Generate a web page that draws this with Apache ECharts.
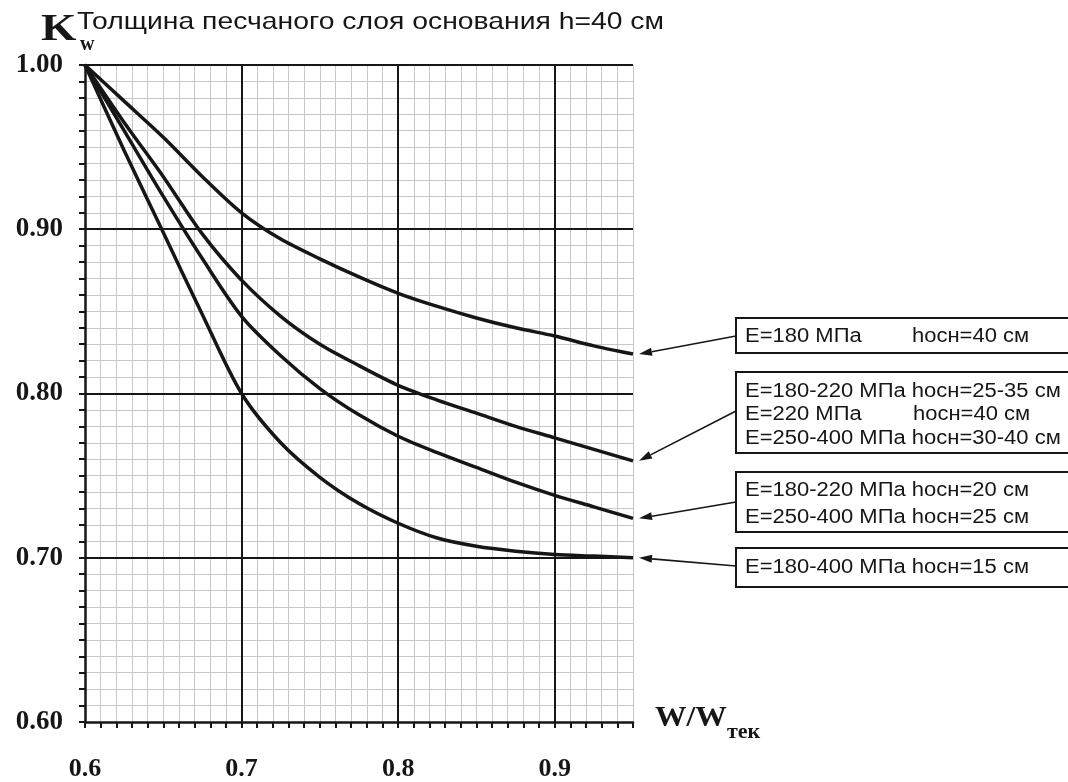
<!DOCTYPE html>
<html>
<head>
<meta charset="utf-8">
<script src="https://cdn.jsdelivr.net/npm/echarts@6/dist/echarts.min.js"></script>
<style>
  html, body { margin: 0; padding: 0; background: #fff; }
  #chart { width: 1068px; height: 782px; }
</style>
</head>
<body>
<div id="chart"></div>
<script>
// W/Wтек по оси X
var xs = [0.6, 0.625, 0.65, 0.675, 0.7, 0.725, 0.75, 0.775, 0.8, 0.825, 0.85, 0.875, 0.9, 0.925, 0.95];
// Kw для четырёх кривых (сверху вниз)
var kw180 = [1.0, 0.978, 0.956, 0.932, 0.910, 0.894, 0.882, 0.871, 0.861, 0.853, 0.846, 0.840, 0.835, 0.829, 0.824];
var kw220 = [1.0, 0.965, 0.932, 0.897, 0.869, 0.847, 0.830, 0.817, 0.805, 0.796, 0.788, 0.780, 0.773, 0.766, 0.759];
var kw20 = [1.0, 0.960, 0.920, 0.882, 0.847, 0.823, 0.803, 0.787, 0.774, 0.764, 0.755, 0.746, 0.738, 0.731, 0.724];
var kw15 = [1.0, 0.948, 0.898, 0.848, 0.800, 0.770, 0.749, 0.733, 0.721, 0.712, 0.707, 0.704, 0.702, 0.701, 0.700];
var majorX = [0.7, 0.8, 0.9];
var majorY = [0.7, 0.8, 0.9, 1.0];

var serif = '"Liberation Serif", "DejaVu Serif", serif';
var sans = '"Liberation Sans", Arial, sans-serif';
var ink = '#161616';

var myChart = echarts.init(document.getElementById('chart'));

function pairs(ys) {
    return xs.map(function (x, i) { return [x, ys[i]]; });
}

var majorLines = [];
majorX.forEach(function (v) { majorLines.push({ xAxis: v }); });
majorY.forEach(function (v) { majorLines.push({ yAxis: v }); });

var curveStyle = { color: ink, width: 3.5 };
var minorGrid = { show: true, lineStyle: { color: '#c8c8c8', width: 1 } };

var option = {
    backgroundColor: '#fff',
    animation: false,
    grid: { left: 85, right: 435, top: 65, bottom: 60 },
    xAxis: {
        type: 'value',
        min: 0.6,
        max: 0.95,
        interval: 0.01,
        axisLine: { lineStyle: { color: ink, width: 2.5 } },
        axisTick: { length: 6, lineStyle: { color: ink, width: 2 } },
        axisLabel: {
            margin: 34,
            color: ink,
            fontFamily: serif,
            fontWeight: 'bold',
            fontSize: 26,
            formatter: function (v) {
                var k = Math.round(v * 100);
                return (k % 10 === 0) ? (k / 100).toFixed(1) : '';
            }
        },
        splitLine: minorGrid
    },
    yAxis: {
        type: 'value',
        min: 0.6,
        max: 1.0,
        interval: 0.01,
        axisLine: { show: true, lineStyle: { color: ink, width: 2.5 } },
        axisTick: { show: true, length: 6, lineStyle: { color: ink, width: 2 } },
        axisLabel: {
            margin: 22,
            color: ink,
            fontFamily: serif,
            fontWeight: 'bold',
            fontSize: 27,
            formatter: function (v) {
                var k = Math.round(v * 100);
                return (k % 10 === 0) ? (k / 100).toFixed(2) : '';
            }
        },
        splitLine: minorGrid
    },
    series: [
        {
            type: 'line', data: pairs(kw180), smooth: 0.3,
            symbol: 'none', lineStyle: curveStyle, z: 5,
            markLine: {
                silent: true, symbol: ['none', 'none'], label: { show: false },
                lineStyle: { color: ink, width: 2, type: 'solid' },
                data: majorLines, z: 3
            }
        },
        { type: 'line', data: pairs(kw220), smooth: 0.3, symbol: 'none', lineStyle: curveStyle, z: 5 },
        { type: 'line', data: pairs(kw20), smooth: 0.3, symbol: 'none', lineStyle: curveStyle, z: 5 },
        { type: 'line', data: pairs(kw15), smooth: 0.3, symbol: 'none', lineStyle: curveStyle, z: 5 }
    ]
};
myChart.setOption(option);

// ---------------- подписи, рамки, стрелки ----------------
function txt(x, y, s, size, font, weight, sx) {
    return {
        type: 'text', x: x, y: y, z: 20, scaleX: sx || 1,
        style: {
            text: s, fill: ink, font: (weight || 'normal') + ' ' + size + 'px ' + font,
            verticalAlign: 'middle', align: 'left'
        }
    };
}
function note(x, y, s) {
    return txt(x, y, s, 20, sans, 'normal', 1.1);
}
function box(y, h) {
    return {
        type: 'rect', z: 15,
        shape: { x: 736, y: y, width: 345, height: h },
        style: { fill: '#fff', stroke: ink, lineWidth: 2 }
    };
}
function arrow(x0, y0, x1, y1) {
    var a = Math.atan2(y1 - y0, x1 - x0);
    var L = 13, W = 4;
    var bx = x1 - L * Math.cos(a), by = y1 - L * Math.sin(a);
    var nx = -Math.sin(a) * W, ny = Math.cos(a) * W;
    return [
        { type: 'line', z: 16, shape: { x1: x0, y1: y0, x2: bx, y2: by }, style: { stroke: ink, lineWidth: 1.6 } },
        { type: 'polygon', z: 16, shape: { points: [[x1, y1], [bx + nx, by + ny], [bx - nx, by - ny]] }, style: { fill: ink } }
    ];
}

var ends = [kw180, kw220, kw20, kw15].map(function (s) {
    return myChart.convertToPixel({ gridIndex: 0 }, [xs[xs.length - 1], s[s.length - 1]]);
});
var starts = [336, 411, 502, 566];

var g = [
    txt(77, 22, 'Толщина песчаного слоя основания h=40 см', 24, sans, 'normal', 1.18),
    txt(41, 30, 'K', 38, serif, 'bold', 1.2),
    txt(80, 45, 'w', 20, serif, 'bold'),
    txt(655, 718, 'W/W', 30, serif, 'bold', 1.05),
    txt(727, 732, 'тек', 22, serif, 'bold'),
    box(318, 35),
    note(745, 336, 'E=180 МПа'),
    note(912, 336, 'hосн=40 см'),
    box(372, 81),
    note(745, 391, 'E=180-220 МПа hосн=25-35 см'),
    note(745, 414, 'E=220 МПа'),
    note(913, 414, 'hосн=40 см'),
    note(745, 438, 'E=250-400 МПа hосн=30-40 см'),
    box(472, 60),
    note(745, 490, 'E=180-220 МПа hосн=20 см'),
    note(745, 517, 'E=250-400 МПа hосн=25 см'),
    box(548, 39),
    note(745, 567, 'E=180-400 МПа hосн=15 см')
];
for (var i = 0; i < ends.length; i++) {
    g = g.concat(arrow(736, starts[i], ends[i][0] + 6, ends[i][1]));
}
myChart.setOption({ graphic: g });
</script>
</body>
</html>
